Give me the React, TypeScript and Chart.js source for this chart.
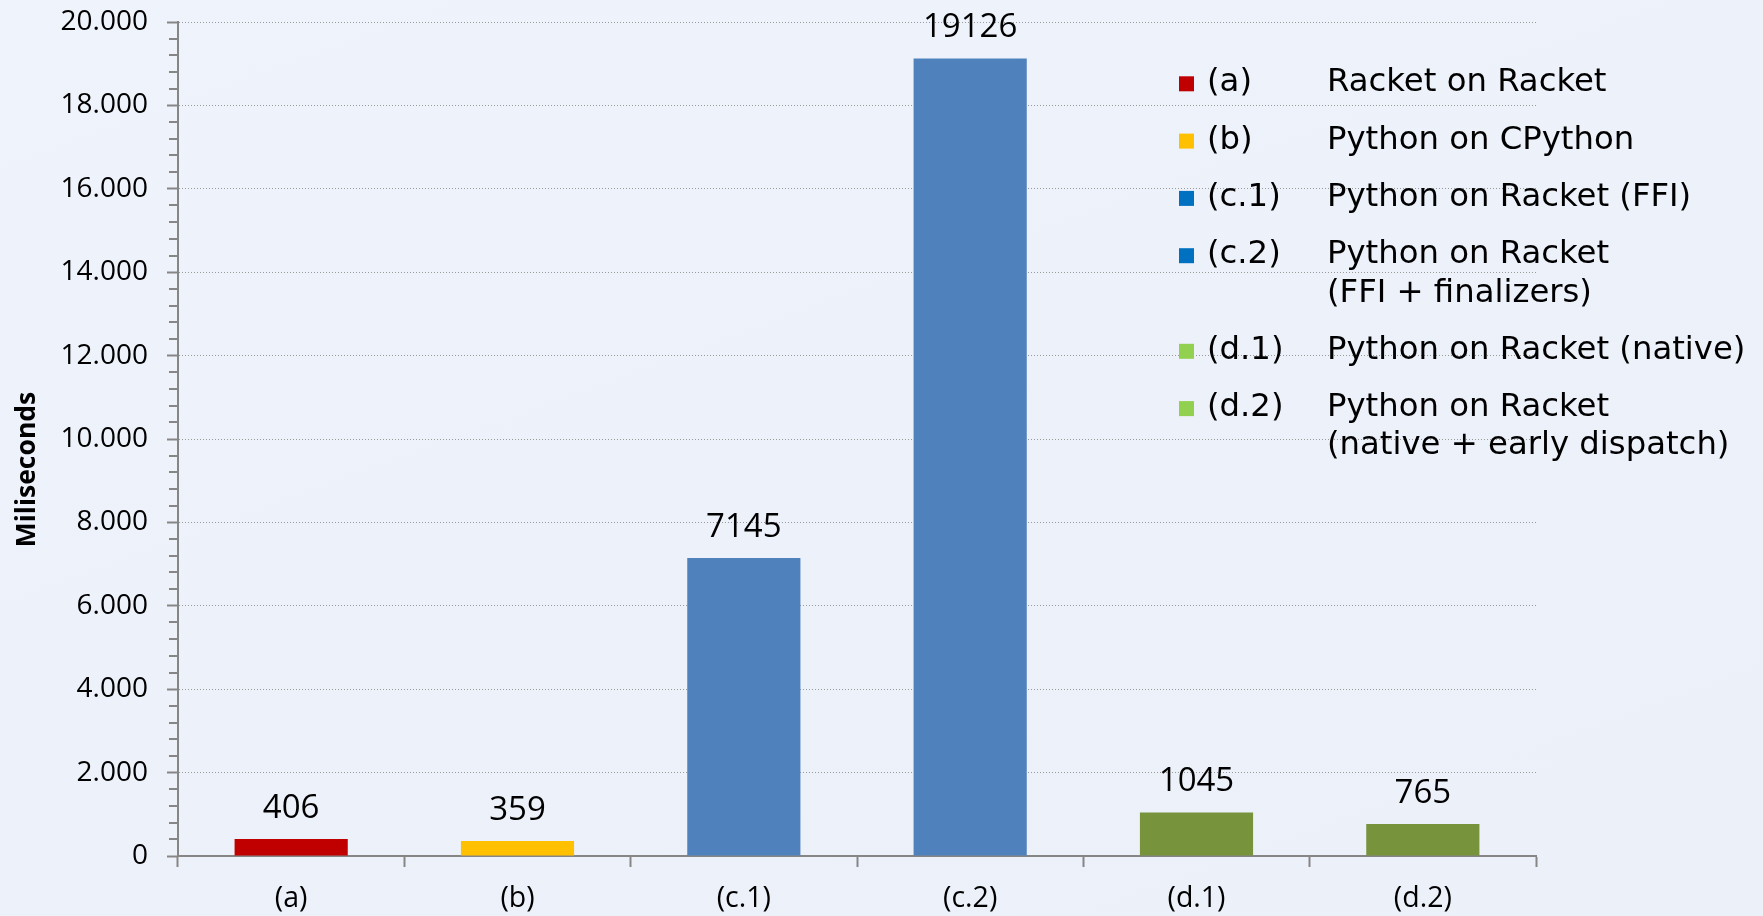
import React, { useEffect, useRef } from 'react';
import { Chart, registerables } from 'chart.js';

Chart.register(...registerables);

// ---- data ----
const categories = ['(a)', '(b)', '(c.1)', '(c.2)', '(d.1)', '(d.2)'];
const values = [406, 359, 7145, 19126, 1045, 765];
const barColors = ['#C00000', '#FFC000', '#4F81BD', '#4F81BD', '#77933C', '#77933C'];

const legendKeys = ['(a)', '(b)', '(c.1)', '(c.2)', '(d.1)', '(d.2)'];
const legendLines = [
  ['Racket on Racket'],
  ['Python on CPython'],
  ['Python on Racket (FFI)'],
  ['Python on Racket', '(FFI + finalizers)'],
  ['Python on Racket (native)'],
  ['Python on Racket', '(native + early dispatch)'],
];
const legendColors = ['#C00000', '#FFC000', '#0070C0', '#0070C0', '#92D050', '#92D050'];

const yTitle = 'Miliseconds';
const yMin = 0;
const yMax = 20000;
const yStep = 2000;
const yMinorStep = 400;

const AXIS_COLOR = '#868686';
const GRID_COLOR = '#9A9A9A';
const NUM_FONT = '"Open Sans", "Liberation Sans", sans-serif';
const LEGEND_FONT = '"DejaVu Sans", Verdana, sans-serif';

function formatThousands(v: number): string {
  return String(v).replace(/\B(?=(\d{3})+(?!\d))/g, '.');
}

const decorPlugin = {
  id: 'decor',
  afterDraw(chart: any) {
    const ctx: CanvasRenderingContext2D = chart.ctx;
    const yScale = chart.scales.y;

    // minor tick marks on the y axis
    ctx.save();
    ctx.strokeStyle = AXIS_COLOR;
    ctx.lineWidth = 2;
    for (let v = yMin; v <= yMax; v += yMinorStep) {
      if (v % yStep === 0) continue;
      const py = Math.round(yScale.getPixelForValue(v));
      ctx.beginPath();
      ctx.moveTo(yScale.right - 9, py);
      ctx.lineTo(yScale.right, py);
      ctx.stroke();
    }
    ctx.restore();

    // data labels
    const meta = chart.getDatasetMeta(0);
    ctx.save();
    ctx.font = `33px ${NUM_FONT}`;
    ctx.fillStyle = '#000';
    ctx.textAlign = 'center';
    ctx.textBaseline = 'alphabetic';
    meta.data.forEach((bar: any, i: number) => {
      ctx.fillText(String(values[i]), bar.x, bar.y - 21);
    });
    ctx.restore();

    // y axis title
    ctx.save();
    ctx.translate(35, 469.5);
    ctx.rotate(-Math.PI / 2);
    ctx.font = `bold 26.5px ${NUM_FONT}`;
    ctx.fillStyle = '#000';
    ctx.textAlign = 'center';
    ctx.textBaseline = 'alphabetic';
    ctx.fillText(yTitle, 0, 0);
    ctx.restore();

    // legend
    ctx.save();
    ctx.font = `32.3px ${LEGEND_FONT}`;
    ctx.textBaseline = 'alphabetic';
    ctx.textAlign = 'left';
    let baseY = 91.3;
    legendKeys.forEach((k, i) => {
      ctx.fillStyle = legendColors[i];
      ctx.fillRect(1179, baseY - 15, 15, 15);
      ctx.fillStyle = '#000';
      ctx.fillText(k, 1207, baseY);
      legendLines[i].forEach((line, j) => {
        ctx.fillText(line, 1327, baseY + j * 38.3);
      });
      baseY += (legendLines[i].length - 1) * 38.3 + 57.3;
    });
    ctx.restore();
  },
};

export default function App() {
  const canvasRef = useRef<HTMLCanvasElement | null>(null);

  useEffect(() => {
    if (!canvasRef.current) return;
    const chart = new Chart(canvasRef.current, {
      type: 'bar',
      data: {
        labels: categories,
        datasets: [
          {
            data: values,
            backgroundColor: barColors,
            borderWidth: 0,
            barPercentage: 0.5,
            categoryPercentage: 1,
          },
        ],
      },
      options: {
        responsive: false,
        animation: false,
        events: [],
        layout: { padding: { top: 22, right: 227, bottom: 0, left: 0 } },
        plugins: {
          legend: { display: false },
          tooltip: { enabled: false },
          title: { display: false },
        },
        scales: {
          x: {
            offset: true,
            grid: {
              offset: true,
              display: true,
              drawOnChartArea: false,
              drawTicks: true,
              tickLength: 11,
              tickColor: AXIS_COLOR,
              tickWidth: 2,
            },
            border: { display: true, color: AXIS_COLOR, width: 2 },
            ticks: {
              color: '#000',
              font: { family: NUM_FONT, size: 28.5 },
              padding: 15,
              maxRotation: 0,
              autoSkip: false,
            },
            afterFit: (scale: any) => {
              scale.height = 60;
              scale.paddingLeft = 0;
              scale.paddingRight = 0;
            },
          },
          y: {
            min: yMin,
            max: yMax,
            grid: {
              display: true,
              drawOnChartArea: true,
              drawTicks: true,
              color: (c: any) => (c.tick && c.tick.value === 0 ? 'rgba(0,0,0,0)' : GRID_COLOR),
              lineWidth: 1,
              tickLength: 11,
              tickColor: AXIS_COLOR,
              tickWidth: 2,
            },
            border: { display: true, color: AXIS_COLOR, width: 2, dash: [1, 2] },
            ticks: {
              stepSize: yStep,
              color: '#000',
              font: { family: NUM_FONT, size: 28 },
              padding: 19,
              autoSkip: false,
              callback: (v: any) => formatThousands(Number(v)),
            },
            afterFit: (scale: any) => {
              scale.width = 178;
              scale.paddingTop = 0;
              scale.paddingBottom = 0;
            },
          },
        },
      },
      plugins: [decorPlugin],
    });
    return () => chart.destroy();
  }, []);

  return (
    <div
      style={{
        position: 'fixed',
        left: 0,
        top: 0,
        width: 1763,
        height: 916,
        background: 'linear-gradient(160deg, #EFF3FB 0%, #EDF1FA 50%, #EBF0F9 100%)',
        overflow: 'hidden',
      }}
    >
      <canvas ref={canvasRef} width={1763} height={916} style={{ display: 'block' }} />
    </div>
  );
}
